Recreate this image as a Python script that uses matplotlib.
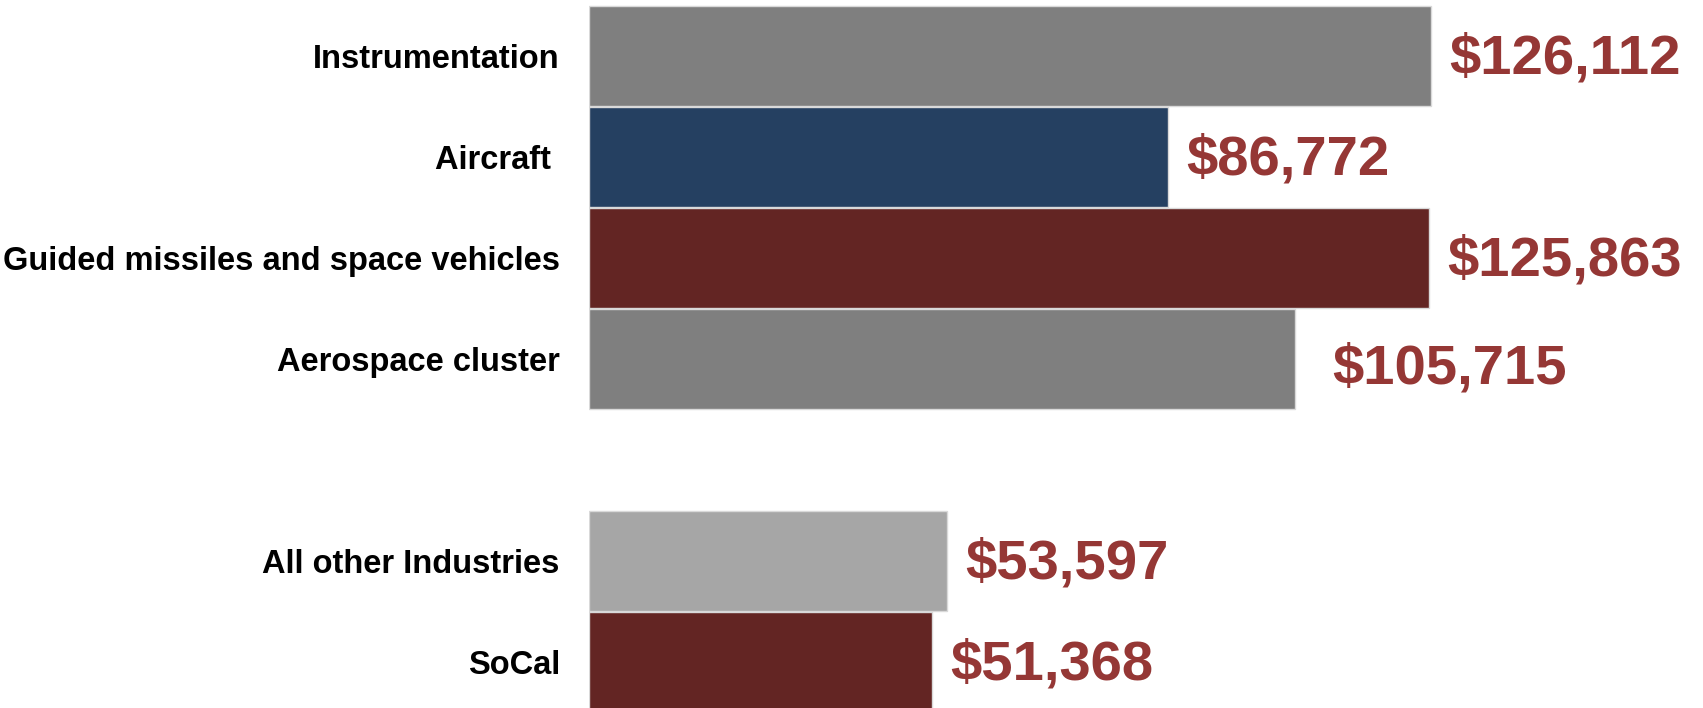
import matplotlib.pyplot as plt

# Data (top to bottom); slot 4 is the blank gap between the groups
categories = ["Instrumentation", "Aircraft ", "Guided missiles and space vehicles",
              "Aerospace cluster", "All other Industries", "SoCal"]
values = [126112, 86772, 125863, 105715, 53597, 51368]
slots = [0, 1, 2, 3, 5, 6]
colors = ["#7f7f7f", "#254061", "#632523", "#7f7f7f", "#a6a6a6", "#632523"]
label_color = "#953735"

plt.rcParams['font.family'] = ['Liberation Sans', 'DejaVu Sans']

fig = plt.figure(figsize=(17.03, 7.08), dpi=100)
ax = fig.add_axes([589 / 1703, 0, 1 - 589 / 1703, 1])

ax.barh(slots, values, height=0.99, color=colors, edgecolor="#d9d9d9", linewidth=1)

# value labels, the aerospace one sits a bit further out and lower
for s, v in zip(slots, values):
    dx, dy = 2700, 0.04
    if s == 3:
        dx, dy = 5600, 0.11
    ax.text(v + dx, s + dy, f"${v:,}", color=label_color, fontsize=40.5,
            fontweight="bold", va="center", ha="left")

ax.set_xlim(0, 166900)
ax.set_ylim(6.46, -0.55)
ax.set_yticks(slots)
ax.set_yticklabels(categories, fontsize=23.5, fontweight="bold")
ax.tick_params(axis="y", length=0, pad=21)
ax.set_xticks([])
for sp in ax.spines.values():
    sp.set_visible(False)

fig.savefig("out.png", dpi=100)
